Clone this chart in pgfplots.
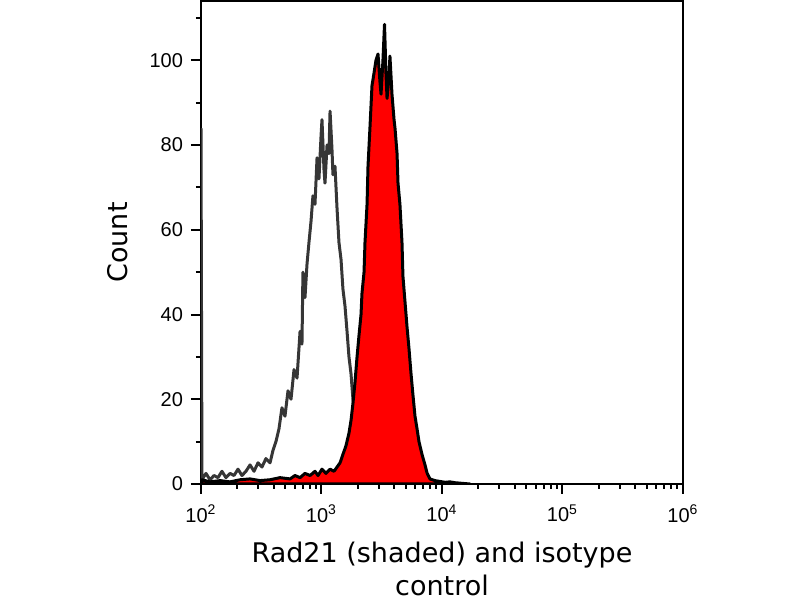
\documentclass[border=0pt]{standalone}
\usepackage{pgfplots}
\pgfplotsset{compat=1.18}
\usepackage{fontspec}
\setmainfont{Liberation Sans}
\newfontfamily\labelfont{DejaVu Sans}
\definecolor{isogray}{HTML}{363636}
\definecolor{radred}{HTML}{FF0000}
\begin{document}
\begin{tikzpicture}
\useasboundingbox (0,0) rectangle (400pt,300pt);
\begin{axis}[
  at={(100.5pt,58pt)}, anchor=south west,
  scale only axis, width=241pt, height=241.5pt,
  xmin=2, xmax=6, ymin=0, ymax=114,
  axis line style={line width=1pt, black},
  tick style={line width=1pt, black},
  tick align=outside,
  xtick pos=bottom, ytick pos=left,
  major tick length=5pt, minor tick length=2.5pt,
  xtick={2,3,4,5,6},
  xticklabels={10\textsuperscript{2},10\textsuperscript{3},10\textsuperscript{4},10\textsuperscript{5},10\textsuperscript{6}},
  minor xtick={2.301,2.477,2.602,2.699,2.778,2.845,2.903,2.954,
               3.301,3.477,3.602,3.699,3.778,3.845,3.903,3.954,
               4.301,4.477,4.602,4.699,4.778,4.845,4.903,4.954,
               5.301,5.477,5.602,5.699,5.778,5.845,5.903,5.954},
  ytick={0,20,40,60,80,100},
  minor ytick={10,30,50,70,90,110},
  /pgf/number format/assume math mode=true,
  ticklabel style={font=\fontsize{10}{12}\selectfont},
  yticklabel style={xshift=-0.5pt},
  xticklabel style={yshift=-2pt},
  xlabel={Rad21 (shaded) and isotype\\control},
  xlabel style={font=\labelfont\fontsize{13.5}{16.5}\selectfont, align=center,
    inner sep=0pt,
    at={(axis description cs:0.5,0)}, anchor=north, yshift=-29pt},
  ylabel={Count},
  ylabel style={font=\labelfont\fontsize{13.5}{16}\selectfont,
    at={(axis description cs:0,0.5)}, anchor=center, yshift=41.5pt},
  clip=true,
]
% isotype control (grey outline)
\addplot[color=isogray, line width=1.5pt, line join=round] table[row sep=\\] {
x y\\
2.000 84\\ 2.008 1\\ 2.041 2.5\\ 2.075 1\\ 2.108 2\\ 2.141 1.5\\ 2.174 3\\
2.207 1.5\\ 2.241 2.5\\ 2.274 2\\ 2.307 3.5\\ 2.340 2\\ 2.373 3\\ 2.407 4.5\\
2.440 3\\ 2.473 5\\ 2.506 4\\ 2.539 6\\ 2.573 5\\ 2.598 8\\ 2.622 10\\
2.647 13\\ 2.672 18\\ 2.697 16\\ 2.722 22\\ 2.747 20\\ 2.772 27\\ 2.797 25\\
2.822 36\\ 2.838 33\\ 2.846 50\\ 2.863 44\\ 2.880 52\\ 2.896 57\\ 2.913 62\\
2.929 68\\ 2.946 66\\ 2.963 77\\ 2.979 72\\ 2.996 82\\ 3.004 86\\ 3.021 74\\
3.029 71\\ 3.046 80\\ 3.062 78\\ 3.071 88\\ 3.087 79\\ 3.095 73\\ 3.112 75\\
3.129 65\\ 3.145 57\\ 3.162 53\\ 3.178 46\\ 3.195 42\\ 3.212 36\\ 3.228 30\\
3.245 26\\ 3.261 20\\ 3.278 17\\ 3.295 13\\ 3.320 9\\ 3.344 6\\ 3.369 4\\
3.402 2\\ 3.444 1\\ 3.485 0.5\\ 3.568 0.3\\ 3.651 0\\
};
% Rad21 (red shaded)
\addplot[draw=black, fill=radred, line width=1.5pt, line join=round] table[row sep=\\] {
x y\\
2.008 1\\ 2.075 0.5\\ 2.158 0.8\\ 2.241 0.5\\ 2.324 1\\ 2.407 1.2\\ 2.490 0.8\\
2.573 1\\ 2.656 1.5\\ 2.739 1.2\\ 2.780 2\\ 2.822 1.5\\ 2.863 2.5\\ 2.905 2\\
2.946 3\\ 2.971 2\\ 3.004 3.5\\ 3.037 2.5\\ 3.071 3.5\\ 3.104 3\\ 3.129 4\\
3.154 5\\ 3.178 7\\ 3.203 9\\ 3.228 12\\ 3.245 15\\ 3.261 19\\ 3.278 24\\
3.295 30\\ 3.311 35\\ 3.328 40\\ 3.336 45\\ 3.353 50\\ 3.361 57\\ 3.378 66\\
3.386 75\\ 3.402 84\\ 3.419 94\\ 3.436 97\\ 3.452 100\\ 3.469 101.5\\ 3.485 95\\
3.494 92\\ 3.510 100\\ 3.523 108.5\\ 3.535 97\\ 3.544 91\\ 3.560 96\\ 3.568 101\\
3.585 92\\ 3.602 86\\ 3.610 84\\ 3.627 78\\ 3.635 71\\ 3.651 66\\ 3.668 57\\
3.676 49\\ 3.693 43\\ 3.710 37\\ 3.726 32\\ 3.743 26\\ 3.759 21\\ 3.776 16\\
3.793 13\\ 3.809 10\\ 3.834 7\\ 3.859 4.5\\ 3.876 2.6\\ 3.900 1.2\\ 3.942 0.8\\
3.983 0.6\\ 4.025 0.4\\ 4.066 0.5\\ 4.108 0.3\\ 4.149 0.2\\ 4.232 0\\
} \closedcycle;
\end{axis}
\end{tikzpicture}
\end{document}
